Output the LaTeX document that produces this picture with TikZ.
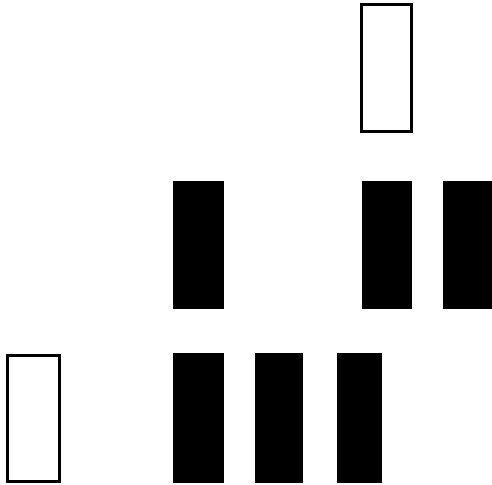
\documentclass[tikz,border=0pt]{standalone}
\begin{document}
\begin{tikzpicture}[x=1pt,y=-1pt,
  openbar/.style={draw=black,line width=3pt,fill=white},
  solidbar/.style={fill=black,draw=none}]
\useasboundingbox (0,0) rectangle (492,484);
\fill[white] (0,0) rectangle (492,484);
% top row
\draw[openbar] (361.5,4.5) rectangle (411.5,131.5) coordinate (top);
% middle row
\fill[solidbar] (173,181) rectangle (224,309);
\fill[solidbar] (362,181) rectangle (412,309);
\fill[solidbar] (443,181) rectangle (492,309);
% bottom row
\draw[openbar] (7.5,355.5) rectangle (59.5,481.5);
\fill[solidbar] (173,353) rectangle (224,483);
\fill[solidbar] (255,353) rectangle (303,483);
\fill[solidbar] (337,353) rectangle (382,483);
\end{tikzpicture}
\end{document}
